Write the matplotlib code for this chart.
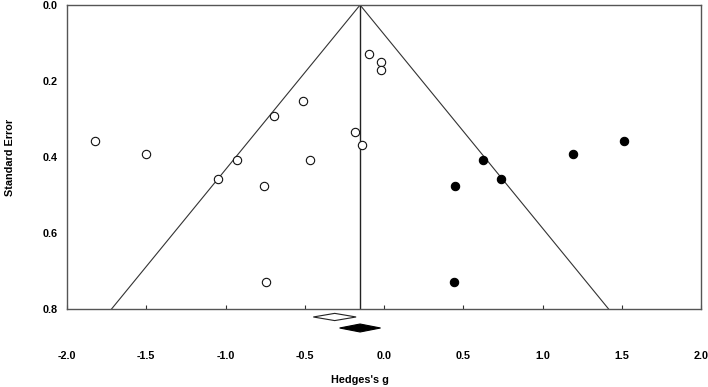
import matplotlib.pyplot as plt
from matplotlib.patches import Polygon
import numpy as np

plt.rcParams['font.family'] = ['Liberation Sans', 'DejaVu Sans']

# observed studies (open circles)
obs_g = [-1.823, -1.50, -1.045, -0.927, -0.696, -0.509, -0.757, -0.469,
         -0.183, -0.137, -0.095, -0.019, -0.019, -0.747]
obs_se = [0.358, 0.391, 0.457, 0.408, 0.292, 0.253, 0.477, 0.407,
          0.335, 0.369, 0.130, 0.151, 0.172, 0.728]

# imputed studies (filled circles)
imp_g = [0.622, 0.740, 0.450, 1.194, 1.516, 0.440]
imp_se = [0.407, 0.457, 0.477, 0.391, 0.358, 0.728]

# summary estimates: point, lower, upper
obs_est = [-0.311, -0.446, -0.176]
adj_est = [-0.151, -0.280, -0.022]

se_max = 0.8
xticks = [-2.0, -1.5, -1.0, -0.5, 0.0, 0.5, 1.0, 1.5, 2.0]
yticks = [0.0, 0.2, 0.4, 0.6, 0.8]

fig = plt.figure(figsize=(7.08, 3.87), dpi=100)
ax = fig.add_axes([67/708, 1-309/387, (701-67)/708, (309-5)/387])

c = adj_est[0]
ax.plot([c-1.96*se_max, c, c+1.96*se_max], [se_max, 0, se_max], color='#333333', lw=0.8)
ax.plot([c, c], [0, se_max], color='#222222', lw=1.0)

ax.plot(obs_g, obs_se, 'o', ms=6.0, mfc='white', mec='#111111', mew=0.8, ls='none')
ax.plot(imp_g, imp_se, 'o', ms=6.0, mfc='black', mec='black', mew=0.8, ls='none')

def diamond(est, y, h, **kw):
    pts = [[est[1], y], [est[0], y-h], [est[2], y], [est[0], y+h]]
    ax.add_patch(Polygon(pts, closed=True, clip_on=False, **kw))

diamond(obs_est, 0.821, 0.0095, facecolor='white', edgecolor='#222222', lw=0.8)
diamond(adj_est, 0.850, 0.0105, facecolor='black', edgecolor='black', lw=0.8)

ax.set_xlim(-2.0, 2.0)
ax.set_ylim(se_max, 0)
ax.set_xticks(xticks)
ax.set_xticklabels(['%.1f' % v for v in xticks], fontweight='bold', fontsize=7.8)
ax.set_yticks(yticks)
ax.set_yticklabels(['%.1f' % v for v in yticks], fontweight='bold', fontsize=7.8)
ax.tick_params(axis='x', direction='in', length=3, pad=30, color='#333333')
ax.tick_params(axis='y', length=0, pad=7)
for s in ax.spines.values():
    s.set_color('#555555')
    s.set_linewidth(1.0)

fig.text(360/708, 1-380/387, "Hedges's g", ha='center', va='center', fontweight='bold', fontsize=7.8)
fig.text(10/708, 1-157/387, 'Standard Error', ha='center', va='center', rotation=90,
         fontweight='bold', fontsize=7.8)

fig.savefig('out.png', dpi=100)
